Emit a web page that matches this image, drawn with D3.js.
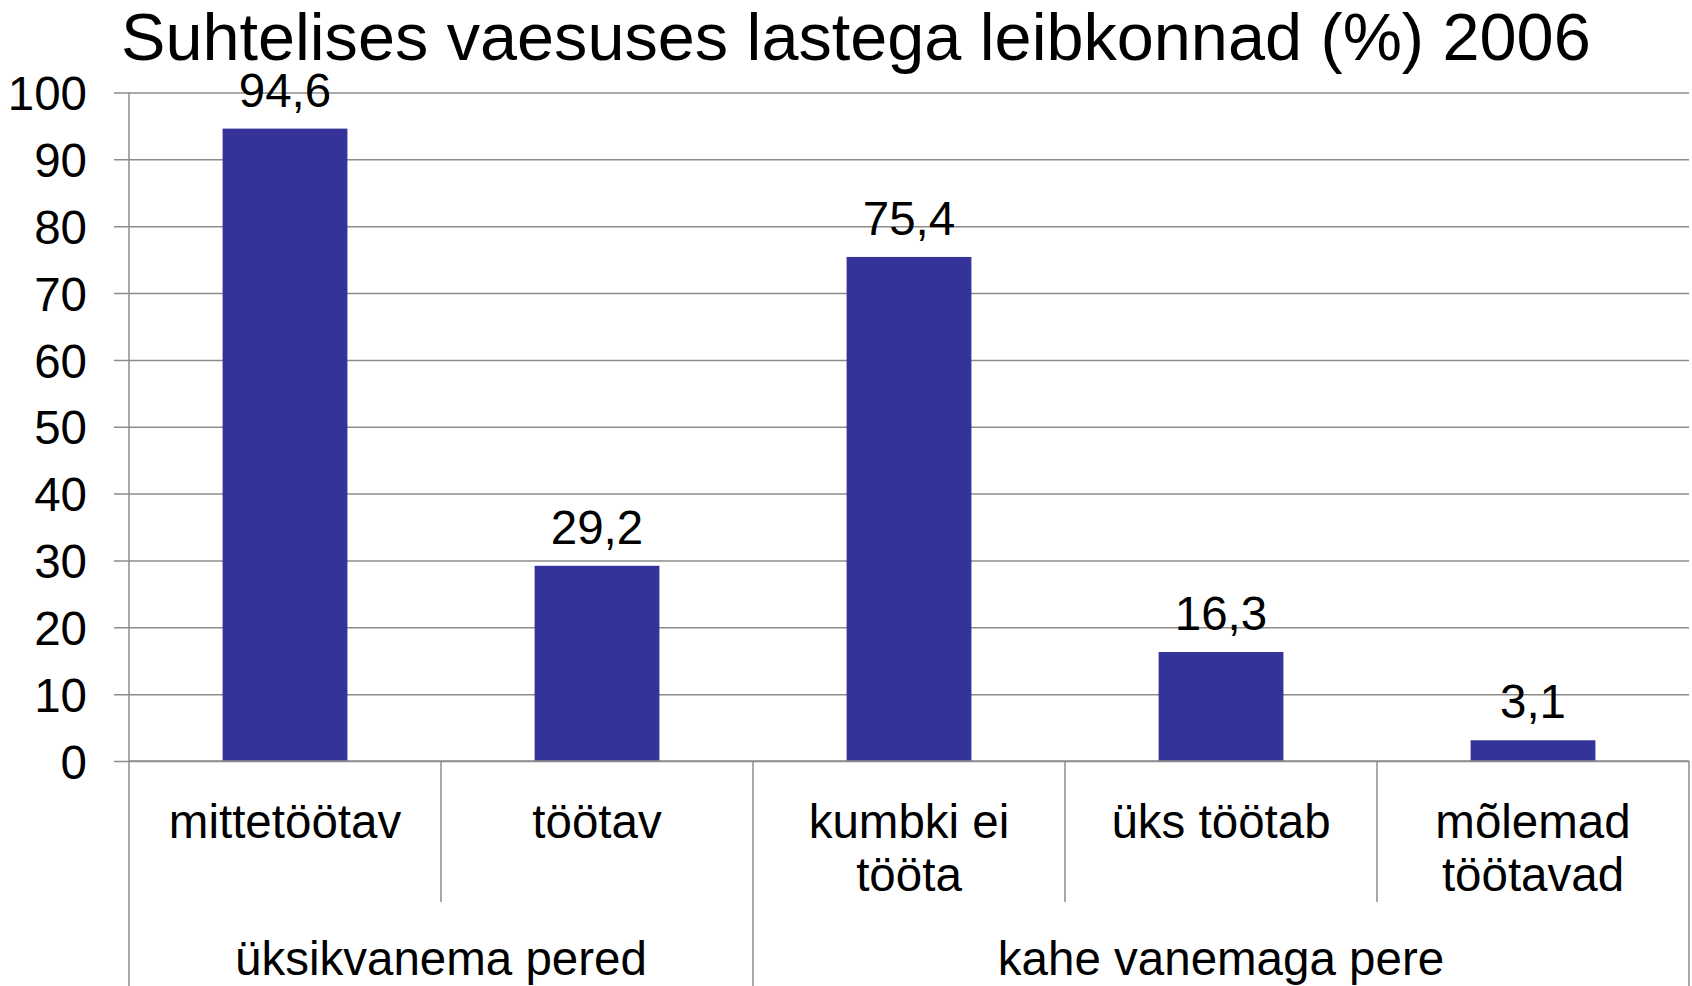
<!DOCTYPE html>
<html>
<head>
<meta charset="utf-8">
<script src="https://cdn.jsdelivr.net/npm/d3@7"></script>
<style>
  html, body { margin: 0; padding: 0; background: #fff; }
  svg { display: block; font-family: "Liberation Sans", Arial, sans-serif; }
</style>
</head>
<body>
<svg id="chart" width="1692" height="986"></svg>
<script>
// Suhtelises vaesuses lastega leibkonnad (%) 2006

const chartTitle = 'Suhtelises vaesuses lastega leibkonnad (%) 2006';
const categories = ['mittetöötav', 'töötav', 'kumbki ei\ntööta', 'üks töötab', 'mõlemad\ntöötavad'];
const values = [94.6, 29.2, 75.4, 16.3, 3.1];
const groups = ['üksikvanema pered', 'kahe vanemaga pere'];
const groupSizes = [2, 3];
const yTicks = [0, 10, 20, 30, 40, 50, 60, 70, 80, 90, 100];

const svg = d3.select('#chart');
const margin = { top: 92.5, right: 3, bottom: 225, left: 129 };
const fullWidth = 1692;
const fullHeight = 986;
const width = fullWidth - margin.left - margin.right;
const height = fullHeight - margin.top - margin.bottom;

const gridColor = '#8c8c8c';
const barColor = '#333399';
const fontSize = 47.5;

const fmt = v => d3.format('.1f')(v).replace('.', ',');

const data = categories.map((c, i) => ({ cat: c, value: values[i] }));

const xBand = d3.scaleBand()
  .domain(categories)
  .range([0, width])
  .padding(0);

const xBar = d3.scaleBand()
  .domain(categories)
  .range([0, width])
  .paddingInner(0.6)
  .paddingOuter(0.3);

const yScale = d3.scaleLinear()
  .domain([0, 100])
  .range([height, 0]);

// title
svg.append('text')
  .attr('x', 121)
  .attr('y', 60)
  .attr('font-size', '66.6px')
  .attr('fill', '#000')
  .text(chartTitle);

const g = svg.append('g')
  .attr('transform', `translate(${margin.left},${margin.top})`);

// y axis with gridlines
const yAxis = g.append('g')
  .attr('class', 'y-axis')
  .call(d3.axisLeft(yScale).tickValues(yTicks).tickSize(-width).tickPadding(0).tickFormat(d3.format('d')));

yAxis.select('.domain').remove();
yAxis.selectAll('.tick line')
  .attr('x1', -15)
  .attr('stroke', gridColor)
  .attr('stroke-width', 1.5);
yAxis.selectAll('.tick text')
  .attr('x', -42)
  .attr('dy', '0.36em')
  .attr('font-size', fontSize + 'px')
  .attr('font-family', '"Liberation Sans", Arial, sans-serif')
  .attr('fill', '#000');

// left axis line
g.append('line')
  .attr('x1', 0).attr('x2', 0)
  .attr('y1', 0).attr('y2', height)
  .attr('stroke', gridColor)
  .attr('stroke-width', 1.5);

// bars
g.selectAll('.bar')
  .data(data)
  .enter()
  .append('rect')
  .attr('class', 'bar')
  .attr('x', d => xBar(d.cat))
  .attr('y', d => yScale(d.value))
  .attr('width', xBar.bandwidth())
  .attr('height', d => height - yScale(d.value))
  .attr('fill', barColor);

// value labels
g.selectAll('.bar-value')
  .data(data)
  .enter()
  .append('text')
  .attr('class', 'bar-value')
  .attr('x', d => xBar(d.cat) + xBar.bandwidth() / 2)
  .attr('y', d => yScale(d.value) - 22)
  .attr('text-anchor', 'middle')
  .attr('font-size', fontSize + 'px')
  .attr('fill', '#000')
  .text(d => fmt(d.value));

// bottom axis line
g.append('line')
  .attr('x1', 0).attr('x2', width)
  .attr('y1', height).attr('y2', height)
  .attr('stroke', gridColor)
  .attr('stroke-width', 1.5);

// category separators
const groupStarts = [];
let acc = 0;
groupSizes.forEach(n => { groupStarts.push(acc); acc += n; });
groupStarts.push(acc);

const boundaries = d3.range(categories.length + 1);
g.selectAll('.sep')
  .data(boundaries)
  .enter()
  .append('line')
  .attr('class', 'sep')
  .attr('x1', i => i < categories.length ? xBand(categories[i]) : width)
  .attr('x2', i => i < categories.length ? xBand(categories[i]) : width)
  .attr('y1', height)
  .attr('y2', i => groupStarts.includes(i) ? fullHeight - margin.top : height + 141)
  .attr('stroke', gridColor)
  .attr('stroke-width', 1.5);

// category labels
const catLabels = g.selectAll('.cat-label')
  .data(categories)
  .enter()
  .append('text')
  .attr('class', 'cat-label')
  .attr('text-anchor', 'middle')
  .attr('font-size', fontSize + 'px')
  .attr('fill', '#000')
  .attr('transform', d => `translate(${xBand(d) + xBand.bandwidth() / 2},${height + 77})`);

catLabels.selectAll('tspan')
  .data(d => d.split('\n'))
  .enter()
  .append('tspan')
  .attr('x', 0)
  .attr('y', (d, i) => i * 53)
  .text(d => d);

// group labels
g.selectAll('.group-label')
  .data(groups)
  .enter()
  .append('text')
  .attr('class', 'group-label')
  .attr('text-anchor', 'middle')
  .attr('font-size', fontSize + 'px')
  .attr('fill', '#000')
  .attr('x', (d, i) => {
    const a = xBand(categories[groupStarts[i]]);
    const endIdx = groupStarts[i + 1];
    const b = endIdx < categories.length ? xBand(categories[endIdx]) : width;
    return (a + b) / 2;
  })
  .attr('y', height + 214)
  .text(d => d);
</script>
</body>
</html>
